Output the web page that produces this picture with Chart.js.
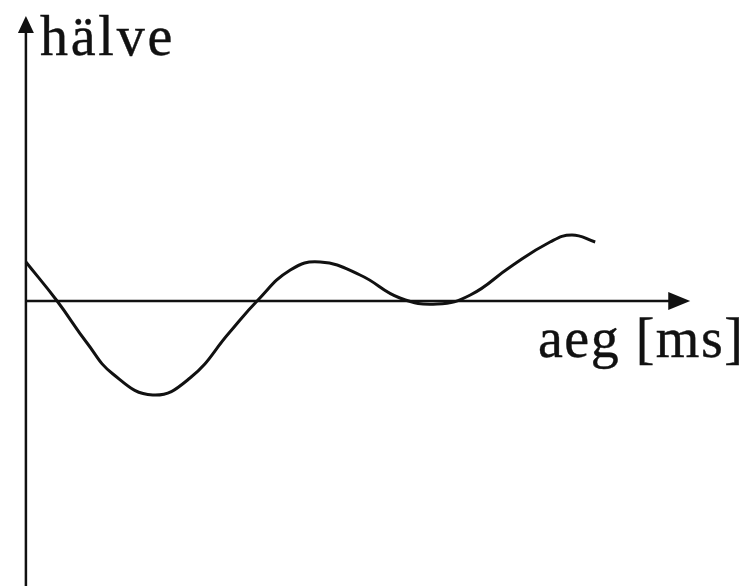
<!DOCTYPE html>
<html>
<head>
<meta charset="utf-8">
<script src="https://cdn.jsdelivr.net/npm/chart.js@4.4.1/dist/chart.umd.min.js"></script>
<style>
  html, body { margin: 0; padding: 0; background: #fff; }
  canvas { display: block; }
</style>
</head>
<body>
<canvas id="waveChart" width="752" height="586"></canvas>
<script>
// Curve samples (time, amplitude)
const timeValues = [
    0, 0.47, 0.92, 1.31, 1.91, 2.47, 3.07, 3.48, 3.98,
    4.43, 5.03, 5.63, 6.19, 6.69, 7.29, 7.89, 8.22, 8.57
];
const ampValues = [
    0.39, 0, -0.42, -0.73, -0.94, -0.77, -0.31, 0, 0.31,
    0.39, 0.26, 0.03, -0.03, 0.06, 0.34, 0.59, 0.66, 0.59
];

// Axis labels
const yTitle = 'hälve';
const xTitle = 'aeg [ms]';

// Axis ranges (arrow tips sit at xArrow / yArrow)
const xMin = -0.39, xMax = 10.93, xArrow = 10;
const yMin = -2.85, yMax = 3.01, yArrow = 2.85;

const inkColor = '#111';
const labelFont = '56px "Liberation Serif", "Times New Roman", serif';

const points = timeValues.map((t, i) => ({ x: t, y: ampValues[i] }));

// Slightly heavier serif text
function drawLabel(ctx, text, x, y, spacing) {
    ctx.letterSpacing = spacing;
    ctx.fillText(text, x, y);
    ctx.strokeText(text, x, y);
}

// Draws both axes with arrow heads plus their labels
const axesPlugin = {
    id: 'axesPlugin',
    beforeDatasetsDraw(chart) {
        const { ctx, scales: { x, y } } = chart;
        const x0 = x.getPixelForValue(0);
        const y0 = y.getPixelForValue(0);
        const xEnd = x.getPixelForValue(xArrow);
        const yTop = y.getPixelForValue(yArrow);
        const yBottom = y.getPixelForValue(yMin);

        ctx.save();
        ctx.strokeStyle = inkColor;
        ctx.fillStyle = inkColor;
        ctx.lineWidth = 2.5;

        // vertical axis
        ctx.beginPath();
        ctx.moveTo(x0, yBottom);
        ctx.lineTo(x0, yTop + 12);
        ctx.stroke();
        ctx.beginPath();
        ctx.moveTo(x0, yTop);
        ctx.lineTo(x0 - 8, yTop + 17);
        ctx.lineTo(x0 + 8, yTop + 17);
        ctx.closePath();
        ctx.fill();

        // horizontal axis
        ctx.beginPath();
        ctx.moveTo(x0, y0);
        ctx.lineTo(xEnd - 16, y0);
        ctx.stroke();
        ctx.beginPath();
        ctx.moveTo(xEnd, y0);
        ctx.lineTo(xEnd - 22, y0 - 9);
        ctx.lineTo(xEnd - 22, y0 + 9);
        ctx.closePath();
        ctx.fill();

        // labels
        ctx.font = labelFont;
        ctx.lineWidth = 0.4;
        ctx.textAlign = 'left';
        ctx.textBaseline = 'alphabetic';
        drawLabel(ctx, yTitle, x0 + 14, yTop + 39, '2.8px');
        drawLabel(ctx, xTitle, 538, y0 + 56, '1.5px');
        ctx.restore();
    }
};

const chart = new Chart(document.getElementById('waveChart'), {
    type: 'line',
    data: {
        datasets: [{
            data: points,
            borderColor: inkColor,
            borderWidth: 3,
            pointRadius: 0,
            fill: false,
            tension: 0.45,
        }],
    },
    options: {
        responsive: false,
        animation: false,
        layout: { padding: 0 },
        scales: {
            x: { type: 'linear', min: xMin, max: xMax, display: false },
            y: { type: 'linear', min: yMin, max: yMax, display: false },
        },
        plugins: {
            legend: { display: false },
            tooltip: { enabled: false },
        },
    },
    plugins: [axesPlugin],
});
</script>
</body>
</html>
